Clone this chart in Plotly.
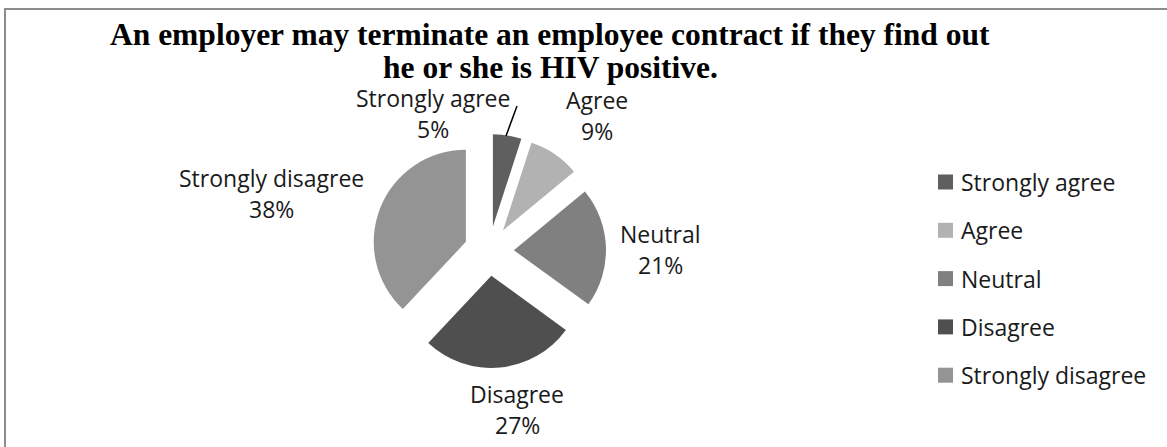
import plotly.graph_objects as go

# Survey responses
categories = ["Strongly agree", "Agree", "Neutral", "Disagree", "Strongly disagree"]
values = [5, 9, 21, 27, 38]
colors = ["#5f5f5f", "#b2b2b2", "#808080", "#4f4f4f", "#949494"]
title_lines = [
    "An employer may terminate an employee contract if they find out",
    "he or she is HIV positive.",
]

W, H = 1167, 447


def px(x):
    return x / W


def py(y):
    return 1 - y / H


# Pie placement (pixels): centre and half-size of the domain box
cx, cy, half = 489, 251, 117
pull = 0.27

fig = go.Figure(
    go.Pie(
        labels=categories,
        values=values,
        marker=dict(colors=colors, line=dict(width=0)),
        sort=False,
        direction="clockwise",
        rotation=0,
        pull=[pull] * len(values),
        textinfo="none",
        showlegend=False,
        domain=dict(x=[px(cx - half), px(cx + half)], y=[py(cy + half), py(cy - half)]),
    )
)

label_font = dict(family="Open Sans", size=23, color="#1a1a1a")
annotations = []

# Title, two centred lines
for text, yc in zip(title_lines, [35, 68]):
    annotations.append(dict(
        text=f"<b>{text}</b>", x=px(550), y=py(yc), xref="paper", yref="paper",
        xanchor="center", yanchor="middle", showarrow=False,
        font=dict(family="Liberation Serif", size=31.5, color="black"),
    ))

# Data labels: category name above its percentage
label_pos = [(433, 98), (597, 100), (660, 234), (517, 394), (271, 178)]
line_gap = 31
total = sum(values)
for name, v, (lx, ly) in zip(categories, values, label_pos):
    pct = round(100 * v / total)
    for text, yy in ((name, ly), (f"{pct}%", ly + line_gap)):
        annotations.append(dict(
            text=text, x=px(lx), y=py(yy), xref="paper", yref="paper",
            xanchor="center", yanchor="middle", showarrow=False, font=label_font,
        ))

# Legend: swatches and names
leg_x, leg_y0, leg_step, sw = 938, 182, 48.3, 15
shapes = []
for i, (name, col) in enumerate(zip(categories, colors)):
    yc = leg_y0 + i * leg_step
    shapes.append(dict(
        type="rect", xref="paper", yref="paper",
        x0=px(leg_x), x1=px(leg_x + sw), y0=py(yc + sw / 2), y1=py(yc - sw / 2),
        fillcolor=col, line=dict(width=0),
    ))
    annotations.append(dict(
        text=name, x=px(leg_x + 21), y=py(yc), xref="paper", yref="paper",
        xanchor="left", yanchor="middle", showarrow=False, font=label_font,
    ))

# Leader line for the smallest slice
shapes.append(dict(
    type="line", xref="paper", yref="paper",
    x0=px(517), y0=py(106), x1=px(506), y1=py(136),
    line=dict(color="black", width=1.5),
))

# Chart frame
shapes.append(dict(
    type="rect", xref="paper", yref="paper",
    x0=px(5), y0=-0.05, x1=1.05, y1=py(9),
    line=dict(color="#8c8c8c", width=2), fillcolor="rgba(0,0,0,0)",
))

fig.update_layout(
    width=W, height=H,
    margin=dict(l=0, r=0, t=0, b=0),
    paper_bgcolor="white",
    plot_bgcolor="white",
    annotations=annotations,
    shapes=shapes,
)

fig.write_html("out.html")
